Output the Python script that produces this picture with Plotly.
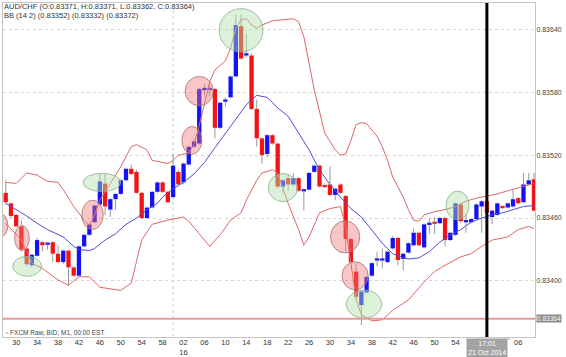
import pandas as pd
import plotly.graph_objects as go

# ---------------- data (AUD/CHF, M1) ----------------
start_time = "2014-10-21 15:28"

opens = [0.83484, 0.83474, 0.83463, 0.83452, 0.83431, 0.83415, 0.83424, 0.83437, 0.83435, 0.83437,
         0.83426, 0.83418, 0.83429, 0.83413, 0.83405, 0.83433, 0.83444, 0.83456, 0.83473, 0.83493,
         0.83468, 0.83478, 0.83483, 0.83496, 0.83507, 0.83504, 0.83484, 0.83460, 0.83470, 0.83485,
         0.83494, 0.83485, 0.83480, 0.83504, 0.83494, 0.83511, 0.83528, 0.83531, 0.83582, 0.83583,
         0.83583, 0.83546, 0.83571, 0.83575, 0.83595, 0.83643, 0.83615, 0.83615, 0.83564, 0.83536,
         0.83521, 0.83539, 0.83531, 0.83490, 0.83498, 0.83492, 0.83498, 0.83486, 0.83487, 0.83504,
         0.83510, 0.83491, 0.83492, 0.83482, 0.83492, 0.83481, 0.83440, 0.83409, 0.83377, 0.83389,
         0.83405, 0.83420, 0.83420, 0.83418, 0.83431, 0.83441, 0.83421, 0.83427, 0.83434, 0.83446,
         0.83432, 0.83454, 0.83456, 0.83455, 0.83460, 0.83439, 0.83444, 0.83473, 0.83456, 0.83456,
         0.83459, 0.83471, 0.83476, 0.83461, 0.83463, 0.83471, 0.83470, 0.83471, 0.83479, 0.83475,
         0.83492, 0.83497]
highs = [0.83496, 0.83475, 0.83464, 0.83458, 0.83432, 0.83426, 0.83441, 0.83438, 0.83437, 0.83438,
         0.83434, 0.83430, 0.83430, 0.83414, 0.83434, 0.83445, 0.83455, 0.83473, 0.83502, 0.83502,
         0.83479, 0.83484, 0.83497, 0.83508, 0.83511, 0.83506, 0.83485, 0.83471, 0.83486, 0.83495,
         0.83495, 0.83486, 0.83521, 0.83506, 0.83513, 0.83529, 0.83535, 0.83584, 0.83588, 0.83588,
         0.83584, 0.83571, 0.83575, 0.83596, 0.83654, 0.83654, 0.83636, 0.83617, 0.83573, 0.83537,
         0.83540, 0.83540, 0.83532, 0.83497, 0.83502, 0.83503, 0.83499, 0.83488, 0.83504, 0.83511,
         0.83511, 0.83492, 0.83509, 0.83489, 0.83493, 0.83482, 0.83441, 0.83417, 0.83391, 0.83405,
         0.83418, 0.83428, 0.83431, 0.83429, 0.83443, 0.83442, 0.83427, 0.83437, 0.83450, 0.83447,
         0.83455, 0.83460, 0.83461, 0.83461, 0.83461, 0.83447, 0.83475, 0.83474, 0.83464, 0.83460,
         0.83474, 0.83477, 0.83477, 0.83468, 0.83475, 0.83472, 0.83475, 0.83488, 0.83480, 0.83503,
         0.83503, 0.83503]
lows = [0.83473, 0.83460, 0.83451, 0.83428, 0.83414, 0.83413, 0.83423, 0.83428, 0.83430, 0.83418,
        0.83417, 0.83416, 0.83395, 0.83404, 0.83404, 0.83432, 0.83443, 0.83455, 0.83472, 0.83463,
        0.83461, 0.83468, 0.83482, 0.83495, 0.83501, 0.83483, 0.83459, 0.83459, 0.83469, 0.83484,
        0.83484, 0.83474, 0.83478, 0.83490, 0.83492, 0.83510, 0.83527, 0.83530, 0.83577, 0.83576,
        0.83536, 0.83545, 0.83566, 0.83574, 0.83594, 0.83611, 0.83613, 0.83563, 0.83528, 0.83512,
        0.83518, 0.83530, 0.83488, 0.83484, 0.83486, 0.83490, 0.83485, 0.83467, 0.83486, 0.83503,
        0.83489, 0.83489, 0.83481, 0.83477, 0.83483, 0.83428, 0.83417, 0.83383, 0.83358, 0.83388,
        0.83404, 0.83414, 0.83412, 0.83417, 0.83430, 0.83415, 0.83410, 0.83426, 0.83433, 0.83433,
        0.83431, 0.83445, 0.83445, 0.83454, 0.83433, 0.83438, 0.83443, 0.83455, 0.83446, 0.83455,
        0.83458, 0.83446, 0.83463, 0.83454, 0.83462, 0.83469, 0.83469, 0.83470, 0.83473, 0.83474,
        0.83491, 0.83466]
closes = [0.83475, 0.83462, 0.83452, 0.83430, 0.83416, 0.83425, 0.83439, 0.83434, 0.83436, 0.83426,
          0.83418, 0.83429, 0.83413, 0.83405, 0.83433, 0.83444, 0.83454, 0.83472, 0.83495, 0.83471,
          0.83478, 0.83483, 0.83496, 0.83507, 0.83502, 0.83484, 0.83460, 0.83470, 0.83485, 0.83494,
          0.83485, 0.83475, 0.83510, 0.83492, 0.83512, 0.83528, 0.83533, 0.83583, 0.83584, 0.83583,
          0.83546, 0.83570, 0.83573, 0.83595, 0.83644, 0.83612, 0.83617, 0.83564, 0.83536, 0.83520,
          0.83539, 0.83531, 0.83490, 0.83496, 0.83492, 0.83498, 0.83486, 0.83487, 0.83503, 0.83510,
          0.83490, 0.83490, 0.83482, 0.83488, 0.83484, 0.83440, 0.83418, 0.83385, 0.83390, 0.83404,
          0.83417, 0.83421, 0.83421, 0.83428, 0.83441, 0.83420, 0.83426, 0.83436, 0.83446, 0.83434,
          0.83454, 0.83455, 0.83455, 0.83460, 0.83439, 0.83446, 0.83474, 0.83457, 0.83458, 0.83459,
          0.83473, 0.83476, 0.83465, 0.83467, 0.83474, 0.83470, 0.83474, 0.83478, 0.83474, 0.83492,
          0.83496, 0.83467]

# Bollinger band (14, 2) values at sample candles
bb_upper_idx = [0, 2, 4, 6, 8, 10, 11, 13, 15, 16, 17, 18, 20, 22, 24, 25, 27, 28, 31, 32, 33, 35, 36,
                37, 39, 40, 42, 43, 44, 45, 46, 47, 48, 49, 51, 55, 56, 57, 59, 60, 61, 62, 63, 64, 65,
                66, 67, 68, 69, 71, 72, 73, 74, 76, 77, 78, 79, 80, 82, 84, 86, 88, 90, 92, 94, 96, 98,
                100, 101]
bb_upper = [0.83494, 0.83493, 0.83503, 0.83501, 0.83495, 0.83494, 0.83487, 0.83471, 0.83458, 0.83453,
            0.83463, 0.83477, 0.83493, 0.83509, 0.83528, 0.83530, 0.83525, 0.83515, 0.83512, 0.83515,
            0.83520, 0.83522, 0.83530, 0.83548, 0.83590, 0.83601, 0.83610, 0.83622, 0.83641, 0.83649,
            0.83650, 0.83644, 0.83641, 0.83644, 0.83648, 0.83650, 0.83647, 0.83633, 0.83582, 0.83560,
            0.83541, 0.83533, 0.83525, 0.83520, 0.83521, 0.83534, 0.83549, 0.83551, 0.83550, 0.83538,
            0.83528, 0.83515, 0.83499, 0.83480, 0.83468, 0.83458, 0.83457, 0.83463, 0.83466, 0.83468,
            0.83471, 0.83476, 0.83479, 0.83481, 0.83483, 0.83486, 0.83489, 0.83492, 0.83493]

bb_mid_idx = [0, 2, 4, 6, 8, 11, 13, 14, 16, 17, 19, 21, 23, 25, 27, 29, 30, 32, 34, 36, 38, 40, 42,
              44, 46, 48, 50, 52, 54, 56, 58, 60, 62, 64, 66, 68, 70, 72, 74, 76, 77, 79, 81, 83, 85,
              87, 89, 91, 93, 95, 97, 99, 101]
bb_mid = [0.83474, 0.83468, 0.83462, 0.83455, 0.83449, 0.83442, 0.83433, 0.83430, 0.83429, 0.83431,
          0.83439, 0.83445, 0.83454, 0.83460, 0.83468, 0.83474, 0.83480, 0.83488, 0.83494, 0.83502,
          0.83513, 0.83527, 0.83541, 0.83554, 0.83568, 0.83577, 0.83575, 0.83565, 0.83557, 0.83541,
          0.83525, 0.83506, 0.83492, 0.83480, 0.83469, 0.83461, 0.83449, 0.83436, 0.83426, 0.83422,
          0.83421, 0.83422, 0.83428, 0.83437, 0.83444, 0.83449, 0.83456, 0.83460, 0.83463, 0.83465,
          0.83468, 0.83471, 0.83472]

bb_lower_idx = [0, 3, 5, 7, 10, 12, 14, 16, 18, 22, 24, 25, 26, 28, 31, 34, 35, 37, 39, 41, 43, 45,
                46, 48, 49, 51, 52, 54, 56, 57, 58, 60, 62, 64, 65, 66, 67, 68, 70, 72, 74, 77, 80, 82,
                84, 87, 89, 91, 93, 96, 98, 100, 101]
bb_lower = [0.83455, 0.83439, 0.83417, 0.83412, 0.83401, 0.83396, 0.83404, 0.83404, 0.83394, 0.83391,
            0.83398, 0.83420, 0.83439, 0.83454, 0.83458, 0.83461, 0.83457, 0.83445, 0.83433, 0.83444,
            0.83458, 0.83465, 0.83477, 0.83496, 0.83503, 0.83506, 0.83503, 0.83474, 0.83449, 0.83434,
            0.83442, 0.83465, 0.83469, 0.83471, 0.83452, 0.83417, 0.83382, 0.83368, 0.83362, 0.83363,
            0.83372, 0.83382, 0.83399, 0.83409, 0.83415, 0.83423, 0.83426, 0.83433, 0.83439, 0.83442,
            0.83449, 0.83452, 0.83450]

# highlighted candles (ellipse centres) and kind
hl_idx = [-1.1, 3.1, 16.6, 35.6, 37.0, 64.9, 66.8, 4.1, 18.4, 45.0, 53.0, 68.5, 86.4]
hl_price = [0.83453, 0.83441, 0.83463, 0.83534, 0.83581, 0.83442, 0.83405,
            0.83414, 0.83494, 0.83639, 0.83489, 0.83378, 0.83472]
hl_kind = ["sell", "sell", "sell", "sell", "sell", "sell", "sell",
           "buy", "buy", "buy", "buy", "buy", "buy"]

last_price = 0.83364
cursor_label = "17:01<br>21 Oct 2014"
legend_line1 = "AUD/CHF (O:0.83371, H:0.83371, L:0.83362, C:0.83364)"
legend_line2 = "BB (14 2) (0.83352) (0.83332) (0.83372)"
source_label = "FXCM Raw, BID, M1, 00:00 EST"
y_ticks = [0.83400, 0.83460, 0.83520, 0.83580, 0.83640]

# ---------------- styles ----------------
hl_half_w = [1.5, 1.4, 2.05, 1.9, 2.7, 2.8, 2.5, 2.75, 3.6, 4.2, 2.8, 3.4, 2.2]
hl_half_h = [0.000114, 0.000118, 0.000140, 0.000133, 0.000140, 0.000153, 0.000134,
             0.000095, 0.000087, 0.000206, 0.000134, 0.000134, 0.000137]
UP = "#1212F5"
DOWN = "#F21414"
WICK = "#9a9a9a"
FONT = "Liberation Sans, Arial, sans-serif"

times = pd.date_range(start_time, periods=len(opens), freq="min")
xs = list(range(len(opens)))
cursor_time = pd.Timestamp("2014-10-21 17:00")
cursor_x = int(list(times).index(cursor_time))

# bodies
min_body = 0.000022
body_base, body_h, body_col = [], [], []
for o, c in zip(opens, closes):
    lo, hi = min(o, c), max(o, c)
    h = max(hi - lo, min_body)
    mid = (lo + hi) / 2
    body_base.append(mid - h / 2)
    body_h.append(h)
    body_col.append(DOWN if c < o else UP)

# wicks (outside the body only)
wx, wy = [], []
for i, (o, h, l, c) in enumerate(zip(opens, highs, lows, closes)):
    top, bot = max(o, c), min(o, c)
    if h > top:
        wx += [i, i, None]
        wy += [top, h, None]
    if l < bot:
        wx += [i, i, None]
        wy += [l, bot, None]

fig = go.Figure()

# Bollinger bands
fig.add_trace(go.Scatter(x=bb_upper_idx, y=bb_upper, mode="lines",
                         line=dict(color="#E06666", width=1), hoverinfo="skip"))
fig.add_trace(go.Scatter(x=bb_lower_idx, y=bb_lower, mode="lines",
                         line=dict(color="#E06666", width=1), hoverinfo="skip"))
fig.add_trace(go.Scatter(x=bb_mid_idx, y=bb_mid, mode="lines",
                         line=dict(color="#4C4CDD", width=1), hoverinfo="skip"))

# candle bodies
fig.add_trace(go.Bar(x=xs, y=body_h, base=body_base, marker=dict(color=body_col, line=dict(width=0)),
                     width=0.82, hoverinfo="skip"))
# wicks
fig.add_trace(go.Scatter(x=wx, y=wy, mode="lines", line=dict(color=WICK, width=1),
                         hoverinfo="skip", connectgaps=False))

shapes = []
# highlight ellipses
for cx, cy, k, hw, hh in zip(hl_idx, hl_price, hl_kind, hl_half_w, hl_half_h):
    if k == "sell":
        fill, line = "rgba(238,120,120,0.42)", "rgba(170,110,110,0.8)"
    else:
        fill, line = "rgba(175,225,170,0.45)", "rgba(140,175,140,0.8)"
    shapes.append(dict(type="circle", xref="x", yref="y", x0=cx - hw, x1=cx + hw,
                       y0=cy - hh, y1=cy + hh, fillcolor=fill, line=dict(color=line, width=1),
                       layer="above"))

# hour separators (dotted)
for i, t in enumerate(times):
    if t.minute == 0:
        shapes.append(dict(type="line", xref="x", yref="paper", x0=i, x1=i, y0=0, y1=1,
                           line=dict(color="#cccccc", width=1, dash="dot"), layer="below"))

# last price line
shapes.append(dict(type="line", xref="paper", yref="y", x0=0, x1=1, y0=last_price, y1=last_price,
                   line=dict(color="#E89A9A", width=2), layer="above"))
# cursor line
shapes.append(dict(type="line", xref="x", yref="paper", x0=cursor_x, x1=cursor_x, y0=0, y1=1,
                   line=dict(color="#000000", width=3), layer="above"))

# ticks (labels under the cursor box are hidden, as in the terminal)
tick_vals, tick_text = [], []
for i, t in enumerate(times):
    if t.minute % 4 == 2 and abs(i - cursor_x) > 3:
        tick_vals.append(i)
        txt = f"{t.minute:02d}"
        if t.minute == 2:
            txt += f"<br>{t.hour}"
        tick_text.append(txt)

annotations = [
    dict(xref="paper", yref="paper", x=0.0, y=0.991, xanchor="left", yanchor="middle",
         text=legend_line1, showarrow=False, borderpad=0,
         font=dict(family=FONT, size=7.5, color="#333")),
    dict(xref="paper", yref="paper", x=0.0, y=0.963, xanchor="left", yanchor="middle",
         text=legend_line2, showarrow=False, borderpad=0,
         font=dict(family=FONT, size=7.5, color="#333")),
    dict(xref="paper", yref="paper", x=0.004, y=0.013, xanchor="left", yanchor="middle",
         text="▫ " + source_label, showarrow=False, borderpad=0,
         font=dict(family=FONT, size=6.5, color="#444")),
    dict(xref="paper", yref="y", x=1, y=last_price, xanchor="left", yanchor="middle", xshift=1,
         text=f"{last_price:.5f}", showarrow=False, bgcolor="#8a8a8a", borderpad=0,
         font=dict(family=FONT, size=6.5, color="#ffffff")),
    dict(xref="x", yref="paper", x=cursor_x, y=0, xanchor="center", yanchor="top", yshift=-1,
         text=cursor_label, showarrow=False, bgcolor="#a3a3a3", borderpad=1,
         font=dict(family=FONT, size=7, color="#ffffff")),
    dict(xref="paper", yref="paper", x=0.95, y=0.0, xanchor="center", yanchor="middle",
         text="▲", showarrow=False, borderpad=0, font=dict(family=FONT, size=7, color="#cfcfcf")),
]

fig.update_layout(
    width=566, height=357,
    margin=dict(l=3, r=31, t=3, b=20, autoexpand=False),
    plot_bgcolor="#ffffff", paper_bgcolor="#ffffff",
    showlegend=False, barmode="overlay",
    shapes=shapes, annotations=annotations,
    font=dict(family=FONT, size=8, color="#333"),
    xaxis=dict(range=[-0.52, 101.2], tickmode="array", tickvals=tick_vals, ticktext=tick_text,
               showgrid=False, zeroline=False, ticks="", showline=True, mirror=True,
               automargin=False, ticklabelstandoff=-2,
               linecolor="#c4c4c4", linewidth=1, tickfont=dict(family=FONT, size=7.5, color="#333")),
    yaxis=dict(range=[0.833466, 0.83665], side="right", tickmode="array", tickvals=y_ticks,
               ticktext=[f"{v:.5f}" for v in y_ticks], showgrid=True, gridcolor="#d6d6d6",
               griddash="dot", zeroline=False, ticks="", showline=True, mirror=True,
               automargin=False, ticklabelstandoff=-1,
               linecolor="#c4c4c4", linewidth=1, tickfont=dict(family=FONT, size=7, color="#444")),
)

fig.write_html(
    "out.html",
    config={"displayModeBar": False},
    post_script="document.body.style.margin='0';document.body.style.padding='0';"
                "document.documentElement.style.overflow='hidden';",
)
